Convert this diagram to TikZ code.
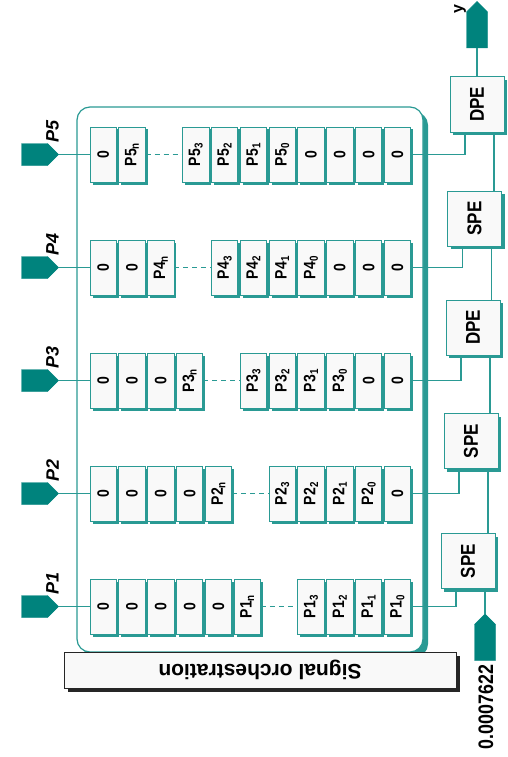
\documentclass[tikz,border=0pt]{standalone}
\usepackage{fontspec}
\setmainfont{Liberation Sans}
\newfontfamily\narrowsf[FakeStretch=0.85]{Liberation Sans}
\usepackage{tikz}
\usetikzlibrary{shapes.symbols,shadows}

\definecolor{tealdark}{RGB}{0,131,125}
\definecolor{tealline}{RGB}{42,154,148}
\definecolor{cellgray}{RGB}{249,249,249}
\newsavebox\turnbox

\begin{document}
\begin{tikzpicture}[
  x=1pt, y=-1pt,
  turned/.style={execute at begin node={\setbox\turnbox=\hbox\bgroup},
                 execute at end node={\egroup\rotatebox{#1}{\usebox\turnbox}}},
  turned/.default=90,
  cell/.style={rectangle, draw=tealline, fill=cellgray, line width=0.9pt,
               minimum width=26.3pt, minimum height=55pt, inner sep=0pt,
               drop shadow={fill=tealline, opacity=1, shadow xshift=2.5pt, shadow yshift=-2.5pt},
               font=\narrowsf\bfseries\fontsize{16.5}{16.5}\selectfont, turned},
  pe/.style={rectangle, draw=tealline, fill=cellgray, line width=1pt,
             minimum width=54pt, minimum height=55pt, inner sep=0pt,
             drop shadow={fill=tealline, opacity=1, shadow xshift=3pt, shadow yshift=-3pt},
             font=\narrowsf\bfseries\fontsize{20}{20}\selectfont, turned},
  frame/.style={rectangle, draw=tealline, fill=white, line width=1.2pt, rounded corners=13pt,
                minimum width=346pt, minimum height=545pt,
                drop shadow={fill=tealline, opacity=1, shadow xshift=5pt, shadow yshift=-5pt}},
  orch/.style={rectangle, draw=black!85, fill=cellgray, line width=1pt,
               minimum width=392pt, minimum height=36pt,
               drop shadow={fill=black!85, opacity=1, shadow xshift=3.5pt, shadow yshift=-3.5pt},
               font=\bfseries\fontsize{21}{21}\selectfont, turned=180},
  port/.style={signal, signal to=east, fill=tealdark, draw=tealdark, inner sep=0pt,
               minimum width=37pt, minimum height=22pt},
  vport/.style={signal, signal to=north, fill=tealdark, draw=tealdark, inner sep=0pt,
                minimum width=21pt, minimum height=36pt},
  plabel/.style={rotate=90, font=\bfseries\itshape\fontsize{18}{18}\selectfont},
  vlabel/.style={rotate=90, font=\narrowsf\bfseries\fontsize{21}{21}\selectfont},
  wire/.style={draw=tealline, line width=1.3pt},
  gap/.style={wire, dash pattern=on 5pt off 4pt}
]
  \useasboundingbox (0,0) rectangle (508,757);

  \node[frame] (frame) at (250,379.5) {};

  \node[port]   (in5) at (34.5,154.5) {};
  \node[plabel] (lab5) at (52.5,131) {P5};
  \node[cell] (r5a1) at (103.2,154.5) {0};
  \node[cell] (r5a2) at (132,154.5) {P5\textsubscript{n}};
  \node[cell] (r5b1) at (195.8,154.5) {P5\textsubscript{3}};
  \node[cell] (r5b2) at (224.6,154.5) {P5\textsubscript{2}};
  \node[cell] (r5b3) at (253.4,154.5) {P5\textsubscript{1}};
  \node[cell] (r5b4) at (282.2,154.5) {P5\textsubscript{0}};
  \node[cell] (r5b5) at (311,154.5) {0};
  \node[cell] (r5b6) at (339.8,154.5) {0};
  \node[cell] (r5b7) at (368.6,154.5) {0};
  \node[cell] (r5b8) at (397.4,154.5) {0};

  \node[port]   (in4) at (34.5,267.5) {};
  \node[plabel] (lab4) at (52.5,244) {P4};
  \node[cell] (r4a1) at (103.2,267.5) {0};
  \node[cell] (r4a2) at (132,267.5) {0};
  \node[cell] (r4a3) at (160.8,267.5) {P4\textsubscript{n}};
  \node[cell] (r4b1) at (224.6,267.5) {P4\textsubscript{3}};
  \node[cell] (r4b2) at (253.4,267.5) {P4\textsubscript{2}};
  \node[cell] (r4b3) at (282.2,267.5) {P4\textsubscript{1}};
  \node[cell] (r4b4) at (311,267.5) {P4\textsubscript{0}};
  \node[cell] (r4b5) at (339.8,267.5) {0};
  \node[cell] (r4b6) at (368.6,267.5) {0};
  \node[cell] (r4b7) at (397.4,267.5) {0};

  \node[port]   (in3) at (34.5,380.5) {};
  \node[plabel] (lab3) at (52.5,357) {P3};
  \node[cell] (r3a1) at (103.2,380.5) {0};
  \node[cell] (r3a2) at (132,380.5) {0};
  \node[cell] (r3a3) at (160.8,380.5) {0};
  \node[cell] (r3a4) at (189.6,380.5) {P3\textsubscript{n}};
  \node[cell] (r3b1) at (253.4,380.5) {P3\textsubscript{3}};
  \node[cell] (r3b2) at (282.2,380.5) {P3\textsubscript{2}};
  \node[cell] (r3b3) at (311,380.5) {P3\textsubscript{1}};
  \node[cell] (r3b4) at (339.8,380.5) {P3\textsubscript{0}};
  \node[cell] (r3b5) at (368.6,380.5) {0};
  \node[cell] (r3b6) at (397.4,380.5) {0};

  \node[port]   (in2) at (34.5,493.5) {};
  \node[plabel] (lab2) at (52.5,470) {P2};
  \node[cell] (r2a1) at (103.2,493.5) {0};
  \node[cell] (r2a2) at (132,493.5) {0};
  \node[cell] (r2a3) at (160.8,493.5) {0};
  \node[cell] (r2a4) at (189.6,493.5) {0};
  \node[cell] (r2a5) at (218.4,493.5) {P2\textsubscript{n}};
  \node[cell] (r2b1) at (282.2,493.5) {P2\textsubscript{3}};
  \node[cell] (r2b2) at (311,493.5) {P2\textsubscript{2}};
  \node[cell] (r2b3) at (339.8,493.5) {P2\textsubscript{1}};
  \node[cell] (r2b4) at (368.6,493.5) {P2\textsubscript{0}};
  \node[cell] (r2b5) at (397.4,493.5) {0};

  \node[port]   (in1) at (34.5,606.5) {};
  \node[plabel] (lab1) at (52.5,583) {P1};
  \node[cell] (r1a1) at (103.2,606.5) {0};
  \node[cell] (r1a2) at (132,606.5) {0};
  \node[cell] (r1a3) at (160.8,606.5) {0};
  \node[cell] (r1a4) at (189.6,606.5) {0};
  \node[cell] (r1a5) at (218.4,606.5) {0};
  \node[cell] (r1a6) at (247.2,606.5) {P1\textsubscript{n}};
  \node[cell] (r1b1) at (311,606.5) {P1\textsubscript{3}};
  \node[cell] (r1b2) at (339.8,606.5) {P1\textsubscript{2}};
  \node[cell] (r1b3) at (368.6,606.5) {P1\textsubscript{1}};
  \node[cell] (r1b4) at (397.4,606.5) {P1\textsubscript{0}};

  \node[orch] (orch) at (260,670) {Signal orchestration};

  \node[pe] (pe5) at (477,104.5) {DPE};
  \node[pe] (pe4) at (474.5,218.5) {SPE};
  \node[pe] (pe3) at (473,327.5) {DPE};
  \node[pe] (pe2) at (471,441) {SPE};
  \node[pe] (pe1) at (468,561) {SPE};

  \node[vport]  (out) at (477,30) {};
  \node[vlabel, font=\bfseries\fontsize{16}{16}\selectfont] (ylab) at (460,9) {y};
  \node[vport]  (src) at (485,642.5) {};
  \node[vlabel] (val) at (486,707) {0.0007622};

  \draw[wire] (in5) -- (r5a1);
  \draw[gap]  (r5a2) -- (r5b1);
  \draw[wire] (r5b8.east) -| ([xshift=-12pt]pe5.south);
  \draw[wire] (in4) -- (r4a1);
  \draw[gap]  (r4a3) -- (r4b1);
  \draw[wire] (r4b7.east) -| ([xshift=-12pt]pe4.south);
  \draw[wire] (in3) -- (r3a1);
  \draw[gap]  (r3a4) -- (r3b1);
  \draw[wire] (r3b6.east) -| ([xshift=-12pt]pe3.south);
  \draw[wire] (in2) -- (r2a1);
  \draw[gap]  (r2a5) -- (r2b1);
  \draw[wire] (r2b5.east) -| ([xshift=-12pt]pe2.south);
  \draw[wire] (in1) -- (r1a1);
  \draw[gap]  (r1a6) -- (r1b1);
  \draw[wire] (r1b4.east) -| ([xshift=-12pt]pe1.south);

  \draw[wire] (src.north) -- (src.north |- pe1.south);
  \draw[wire] ([xshift=17pt]pe2.south) -- ([xshift=17pt]pe2.south |- pe1.north);
  \draw[wire] ([xshift=17pt]pe3.south) -- ([xshift=17pt]pe3.south |- pe2.north);
  \draw[wire] ([xshift=17pt]pe4.south) -- ([xshift=17pt]pe4.south |- pe3.north);
  \draw[wire] ([xshift=17pt]pe5.south) -- ([xshift=17pt]pe5.south |- pe4.north);
  \draw[wire] (pe5) -- (out);
\end{tikzpicture}
\end{document}
